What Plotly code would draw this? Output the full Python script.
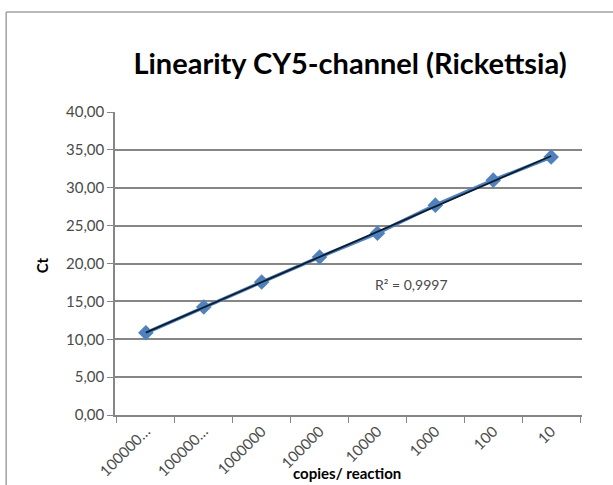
import numpy as np
import plotly.graph_objects as go

categories = ["100000000", "10000000", "1000000", "100000", "10000", "1000", "100", "10"]
tick_labels = ["100000…", "100000…", "1000000", "100000", "10000", "1000", "100", "10"]
ct_values = [10.85, 14.25, 17.55, 20.85, 24.0, 27.7, 31.0, 34.05]
r2_text = "R² = 0,9997"

idx = np.arange(1, len(ct_values) + 1)
slope, intercept = np.polyfit(idx, ct_values, 1)
trend = slope * idx + intercept

fig = go.Figure()
fig.add_trace(go.Scatter(
    x=categories, y=ct_values, mode="lines+markers",
    line=dict(color="#4F81BD", width=3.5),
    marker=dict(symbol="diamond", size=12, color="#4F81BD"),
    showlegend=False, hoverinfo="skip"))
fig.add_trace(go.Scatter(
    x=categories, y=trend, mode="lines",
    line=dict(color="#0D1B2A", width=1.8),
    showlegend=False, hoverinfo="skip"))

grey = "#868686"
fig.update_layout(
    width=613, height=485,
    margin=dict(l=115, r=31, t=112, b=70, autoexpand=False),
    paper_bgcolor="white", plot_bgcolor="white",
    separators=",.",
    font=dict(family="Lato, Open Sans, sans-serif", color="#404040"),
    title=dict(text="<b>Linearity CY5-channel (Rickettsia)</b>",
               x=0.571, xanchor="center", y=0.868, yanchor="middle",
               font=dict(size=29, color="#000000", family="Lato, Open Sans, sans-serif")),
    xaxis=dict(type="category", categoryorder="array", categoryarray=categories,
               tickvals=categories, ticktext=tick_labels, tickangle=-45,
               tickson="boundaries", ticks="outside", ticklen=6, tickcolor=grey,
               showline=True, linecolor=grey, linewidth=1.5, showgrid=False,
               automargin=False,
               tickfont=dict(size=15, color="#4a4a4a")),
    yaxis=dict(range=[0, 40], dtick=5, tickformat=".2f",
               ticks="outside", ticklen=6, tickcolor=grey,
               showline=True, linecolor=grey, linewidth=1.5,
               showgrid=True, gridcolor=grey, gridwidth=1.5,
               automargin=False,
               tickfont=dict(size=15, color="#4a4a4a")),
    annotations=[
        dict(text=r2_text, x=0.635, y=0.43, xref="paper", yref="paper",
             xanchor="center", yanchor="middle",
             showarrow=False, font=dict(size=14, color="#4a4a4a")),
        dict(text="<b>copies/ reaction</b>", x=0.497, y=-0.193, xref="paper", yref="paper",
             xanchor="center", yanchor="middle",
             showarrow=False, font=dict(size=15, color="#000000")),
        dict(text="<b>Ct</b>", x=-0.156, y=0.495, xref="paper", yref="paper", textangle=-90,
             xanchor="center", yanchor="middle",
             showarrow=False, font=dict(size=15, color="#000000")),
    ],
    shapes=[
        dict(type="line", xref="paper", yref="paper", x0=-0.233, x1=-0.233, y0=1.33, y1=-0.4,
             line=dict(color="#A0A0A0", width=1.5)),
        dict(type="line", xref="paper", yref="paper", x0=-0.233, x1=1.2, y0=1.33, y1=1.33,
             line=dict(color="#A0A0A0", width=1.5)),
    ],
)
fig.write_html("out.html", config={"displayModeBar": False},
               post_script="document.body.style.margin='0';")
